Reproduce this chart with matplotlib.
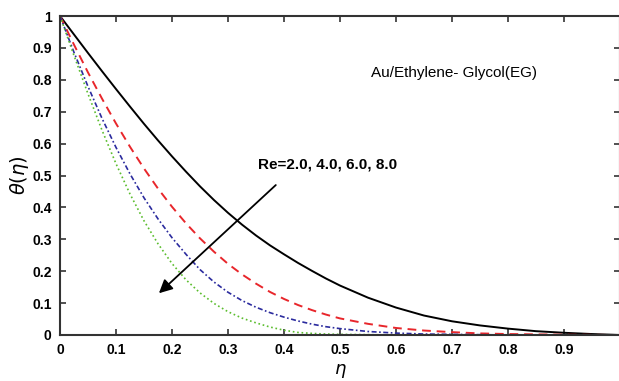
import numpy as np
import matplotlib
matplotlib.use("Agg")
import matplotlib.pyplot as plt

# eta grid and temperature profiles
eta = [0.0, 0.025, 0.05, 0.075, 0.1, 0.125, 0.15, 0.175, 0.2, 0.225, 0.25,
       0.275, 0.3, 0.325, 0.35, 0.375, 0.4, 0.425, 0.45, 0.475, 0.5,
       0.55, 0.6, 0.65, 0.7, 0.75, 0.8, 0.85, 0.9, 0.95, 1.0]
theta_re2 = [1.0, 0.942, 0.884, 0.827, 0.771, 0.716, 0.662, 0.61, 0.56, 0.512, 0.466,
             0.423, 0.383, 0.346, 0.312, 0.281, 0.253, 0.226, 0.201, 0.177, 0.155,
             0.117, 0.086, 0.061, 0.043, 0.030, 0.020, 0.012, 0.007, 0.003, 0.0]
theta_re4 = [1.0, 0.91, 0.823, 0.741, 0.663, 0.59, 0.522, 0.459, 0.402, 0.35, 0.303,
             0.261, 0.223, 0.19, 0.161, 0.135, 0.113, 0.094, 0.078, 0.064, 0.052,
             0.035, 0.022, 0.014, 0.009, 0.005, 0.003, 0.002, 0.001, 0.0005, 0.0]
theta_re6 = [1.0, 0.886, 0.779, 0.679, 0.588, 0.505, 0.43, 0.364, 0.305, 0.253, 0.205,
             0.166, 0.134, 0.108, 0.087, 0.07, 0.056, 0.044, 0.034, 0.026, 0.020,
             0.011, 0.006, 0.003, 0.002, 0.001, 0.0, 0.0, 0.0, 0.0, 0.0]
theta_re8 = [1.0, 0.876, 0.756, 0.642, 0.537, 0.442, 0.358, 0.286, 0.224, 0.173, 0.132,
             0.099, 0.073, 0.053, 0.038, 0.025, 0.015, 0.008, 0.005, 0.003, 0.002,
             0.001, 0.0, 0.0, 0.0, 0.0, 0.0, 0.0, 0.0, 0.0, 0.0]

tick_font = {"family": "Liberation Sans", "weight": "bold", "size": 10}

fig = plt.figure(figsize=(6.19, 3.81), dpi=100)
ax = fig.add_axes([60 / 619, 46 / 381, 560 / 619, 319 / 381])

ax.plot(eta, theta_re2, color="black", lw=1.4, ls="-")
ax.plot(eta, theta_re4, color="#e8262b", lw=1.4, ls=(0, (4.5, 3)))
ax.plot(eta, theta_re6, color="#2b2b9e", lw=1.2, ls=(0, (3, 1.5, 1, 1.5)))
ax.plot(eta, theta_re8, color="#5bbd2e", lw=1.2, ls=":")

ax.set_xlim(0, 1)
ax.set_ylim(0, 1)
ax.set_xticks(np.arange(0, 1.0, 0.1))
ax.set_yticks(np.arange(0, 1.01, 0.1))
ax.set_xticklabels(["0", "0.1", "0.2", "0.3", "0.4", "0.5", "0.6", "0.7", "0.8", "0.9"], fontdict=tick_font)
ax.set_yticklabels(["0", "0.1", "0.2", "0.3", "0.4", "0.5", "0.6", "0.7", "0.8", "0.9", "1"], fontdict=tick_font)
ax.tick_params(direction="in", top=True, right=True, length=4, width=1.2, color="#333333", pad=6)
for s in ax.spines.values():
    s.set_linewidth(1.5)
    s.set_color("#333333")

ax.set_xlabel(r"$\eta$", fontsize=13, labelpad=3)
ax.set_ylabel(r"$\theta(\eta)$", fontsize=14, labelpad=1)

ax.annotate("", xy=(0.173, 0.125), xytext=(0.389, 0.476),
            arrowprops=dict(arrowstyle="-|>", color="black", lw=1.3, mutation_scale=20))
ax.text(0.478, 0.535, "Re=2.0, 4.0, 6.0, 8.0", ha="center", va="center",
        family="Liberation Sans", weight="bold", fontsize=11)
ax.text(0.555, 0.82, "Au/Ethylene- Glycol(EG)", ha="left", va="center",
        family="Liberation Sans", fontsize=11)

fig.savefig("out.png", dpi=100)
